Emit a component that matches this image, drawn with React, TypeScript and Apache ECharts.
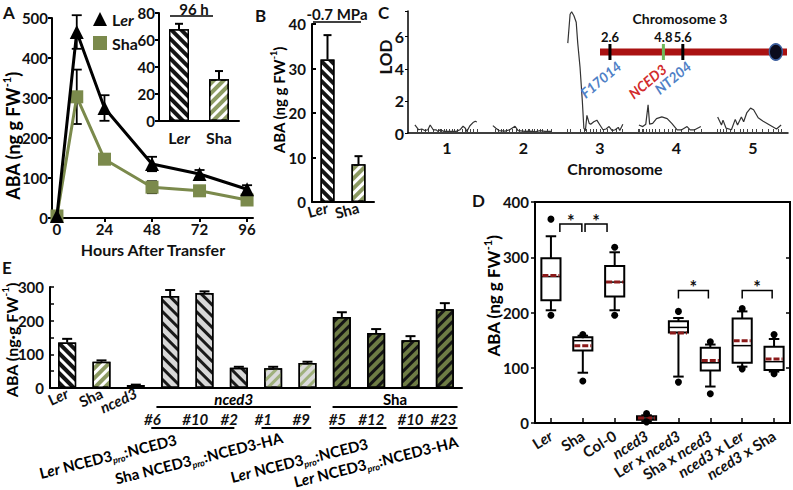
import React, { useEffect, useRef } from 'react';
import * as echarts from 'echarts';

const FF = 'Lato';
const INK = '#111111';
const OLIVE = '#7b8a4c';
const SHA_BAR = '#8c9a62';
const DARK_OLIVE = '#6e7c45';
const MEAN_RED = '#8b1a1a';
const CHR_RED = '#aa1212';
const MARKER_BLUE = '#4f80c6';
const GENE_RED = '#d22b2b';

// ---------------- Panel A ----------------
const aHours = [0, 10, 24, 48, 72, 96];
const aHourTicks = [0, 24, 48, 72, 96];
const aLer = [5, 465, 275, 135, 110, 72];
const aLerErr = [0, 42, 32, 18, 10, 10];
const aSha = [5, 303, 147, 77, 68, 45];
const aShaErr = [0, 68, 12, 15, 6, 8];
const insetCats = ['Ler', 'Sha'];
const insetVals = [68, 31];
const insetErr = [4, 6];

// ---------------- Panel B ----------------
const bCats = ['Ler', 'Sha'];
const bVals = [32, 8.5];
const bErr = [5.5, 1.8];

// ---------------- Panel C ----------------
const cChromosomes = [1, 2, 3, 4, 5];
const cLod1 = [[0.58, 0.5], [0.63, 0.2], [0.67, 0.25], [0.71, 0.15], [0.75, 0.2], [0.78, 0.5], [0.82, 0.2], [0.86, 0.2], [0.88, 0.1], [0.91, 0.2], [0.96, 0.1], [1.04, 0.1], [1.12, 0.1], [1.17, 0.2], [1.21, 0.42], [1.24, 0.3], [1.26, 0.1], [1.3, 0.45], [1.34, 0.65], [1.37, 0.73], [1.39, 0.68]];
const cLod2 = [[1.6, 0.46], [1.64, 0.3], [1.68, 0.15], [1.76, 0.12], [1.82, 0.2], [1.89, 0.42], [1.93, 0.15], [2.02, 0.1], [2.08, 0.12], [2.15, 0.08], [2.22, 0.15], [2.28, 0.1], [2.37, 0.1]];
const cLod3 = [[2.58, 5.6], [2.61, 7.4], [2.63, 7.55], [2.66, 7.3], [2.69, 6.9], [2.71, 5.6], [2.74, 4.1], [2.77, 2.0], [2.79, 0.3], [2.81, 0.15], [2.83, 1.1], [2.86, 0.6], [2.88, 0.55], [2.92, 0.7], [2.96, 0.8], [3.0, 0.5], [3.04, 0.2], [3.08, 0.25], [3.12, 0.4], [3.16, 0.15], [3.2, 0.2], [3.24, 0.35], [3.26, 0.15], [3.3, 0.55]];
const cLod4 = [[3.51, 0.5], [3.56, 0.4], [3.6, 0.55], [3.63, 1.75], [3.65, 0.55], [3.69, 0.6], [3.74, 0.9], [3.81, 1.0], [3.88, 0.9], [3.94, 0.6], [4.01, 0.2], [4.07, 0.2], [4.14, 0.4], [4.18, 0.2], [4.24, 0.2], [4.32, 0.4]];
const cLod5 = [[4.54, 1.0], [4.59, 0.5], [4.61, 0.8], [4.65, 0.3], [4.72, 0.2], [4.77, 0.85], [4.8, 0.5], [4.85, 1.0], [4.88, 0.7], [4.92, 1.25], [4.97, 1.55], [5.01, 1.45], [5.07, 0.95], [5.13, 0.75], [5.22, 0.5], [5.31, 0.25], [5.37, 0.5]];
const cMarkers = [0.61, 0.66, 0.71, 0.76, 0.82, 0.88, 0.91, 0.93, 0.96, 0.99, 1.03, 1.07, 1.1, 1.14, 1.2, 1.24, 1.27, 1.3, 1.34, 1.39,
  1.63, 1.67, 1.71, 1.74, 1.78, 1.82, 1.86, 1.9, 1.94, 1.98, 2.02, 2.06, 2.08, 2.11, 2.14, 2.18, 2.22, 2.25, 2.31, 2.37,
  2.57, 2.61, 2.74, 2.79, 2.82, 2.87, 2.91, 2.95, 3.0, 3.05, 3.09, 3.16, 3.22, 3.29,
  3.5, 3.52, 3.55, 3.57, 3.61, 3.65, 3.68, 3.73, 3.78, 3.84, 3.89, 3.94, 3.99, 4.07, 4.15, 4.23, 4.33,
  4.54, 4.57, 4.61, 4.65, 4.7, 4.76, 4.83, 4.88, 4.93, 4.99, 5.05, 5.12, 5.2, 5.27, 5.33, 5.37];
const chr3Span = [2.19, 9.89];
const chr3MarkerPos = [2.6, 4.8, 5.6];
const chr3MarkerNames = ['F17014', 'NCED3', 'NT204'];
const chr3Centromere = 9.43;

// ---------------- Panel D ----------------
const dCats = ['Ler', 'Sha', 'Col-0', 'nced3', 'Ler x nced3', 'Sha x nced3', 'nced3 x Ler', 'nced3 x Sha'];
// [lower whisker, Q1, median, mean, Q3, upper whisker]
const dBoxes = [
  [204, 222, 265, 267, 298, 338],
  [91, 131, 149, 140, 155, 158],
  [204, 229, 255, 255, 284, 309],
  [3, 6, 9, 9, 12, 14],
  [84, 164, 173, 163, 184, 190],
  [66, 95, 109, 113, 136, 142],
  [102, 109, 140, 149, 189, 202],
  [93, 96, 111, 116, 138, 152],
];
const dOutliers = [[195, 369], [76, 160], [195, 318], [2, 17], [74, 202], [53, 147], [98, 207], [89, 160]];
const dSignif = [[0.28, 0.97, 360], [1.07, 1.76, 360], [4.0, 4.94, 240], [6.0, 6.94, 240]];

// ---------------- Panel E ----------------
const eCats = ['Ler', 'Sha', 'nced3', 'nced3 #6', 'nced3 #10', 'nced3 #2', 'nced3 #1', 'nced3 #9', 'Sha #5', 'Sha #12', 'Sha #10', 'Sha #23'];
const eVals = [135, 78, 9, 273, 282, 60, 59, 74, 211, 163, 142, 234];
const eErr = [11, 4, 1, 18, 5, 3, 4, 4, 14, 12, 12, 18];
const eGenotype = ['Ler', 'Sha', 'nced3', 'nced3+Ler', 'nced3+Ler', 'nced3+Ler', 'nced3+Sha', 'nced3+Sha', 'Sha+Ler', 'Sha+Ler', 'Sha+Ler', 'Sha+Ler'];
const eBackgrounds = ['nced3', 'Sha'];
const eConstructs = [['Ler', 'NCED3'], ['Sha', 'NCED3-HA'], ['Ler', 'NCED3'], ['Ler', 'NCED3-HA']];

// ---------------- annotation layout (category positions) ----------------
const eBackgroundSpan = [[2.6, 7.1], [7.73, 11.37]];
const eLineLabelPos = [2.48, 3.73, 4.72, 5.71, 6.82, 7.87, 8.86, 10.0, 10.96];
const eLineGroupSpan = [[2.45, 4.87], [5.66, 7.11], [7.64, 9.3], [9.65, 11.37]];
const eConstructPos = [3.18, 6.27, 8.75, 11.37];
const eConstructDy = [51, 49, 55, 53];
const chr3NameOffset = [[9, 12], [1, 15], [6, 12]];

const mkRich = (size: number, color = INK) => {
  const base = { fontFamily: FF, fontSize: size, fontWeight: 'bold', color, lineHeight: Math.round(size * 1.35) };
  const small = Math.round(size * 0.62);
  return {
    n: { ...base },
    i: { ...base, fontStyle: 'italic' },
    sup: { fontFamily: FF, fontSize: small, fontWeight: 'bold', color, verticalAlign: 'top' },
    sub: { fontFamily: FF, fontSize: small, fontWeight: 'bold', fontStyle: 'italic', color, verticalAlign: 'bottom' },
  };
};

const geno = (s: string) =>
  String(s)
    .split(/(Ler|nced3)/)
    .filter((t) => t !== '')
    .map((t) => (t === 'Ler' ? '{n|L}{i|er}' : t === 'nced3' ? '{i|nced3}' : `{n|${t}}`))
    .join('');

const stripes = (color: string, dir: string, w = 3, gap = 3.5) => ({
  symbol: 'rect',
  symbolSize: 1,
  color,
  dashArrayX: [1, 0],
  dashArrayY: [w, gap],
  rotation: dir === 'fwd' ? -Math.PI / 4 : Math.PI / 4,
});

const look: Record<string, any> = {
  Ler: { color: '#151515', decal: stripes('#ffffff', 'back') },
  Sha: { color: SHA_BAR, decal: stripes('#ffffff', 'fwd') },
  nced3: { color: '#d3d3d3' },
  'nced3+Ler': { color: '#d8d8d8', decal: stripes('#1a1a1a', 'back', 2.2, 4.3) },
  'nced3+Sha': { color: '#dadada', decal: stripes('#9fb07c', 'fwd', 2.6, 4) },
  'Sha+Ler': { color: DARK_OLIVE, decal: stripes('#151515', 'fwd', 2.6, 4) },
};
const barItem = (v: number, key: string) => ({ value: v, itemStyle: { ...look[key], borderColor: '#000', borderWidth: 1.5 } });

const catPx = (api: any, v: number) => {
  const i = Math.floor(v);
  return api.coord([i, 0])[0] + (v - i) * api.size([1, 0])[0];
};

const errorSeries = (xIdx: number, yIdx: number, data: number[][], cap: number, width = 2) => ({
  type: 'custom',
  xAxisIndex: xIdx,
  yAxisIndex: yIdx,
  data,
  z: 4,
  clip: false,
  encode: { x: 0, y: 1 },
  renderItem: (_p: any, api: any) => {
    const x = api.value(0), v = api.value(1), up = api.value(2), down = api.value(3);
    if (!up && !down) return { type: 'group', children: [] };
    const t = api.coord([x, v + up]);
    const b = api.coord([x, v - down]);
    const st = { stroke: '#000', lineWidth: width };
    const kids: any[] = [
      { type: 'line', shape: { x1: t[0], y1: t[1], x2: b[0], y2: b[1] }, style: st },
      { type: 'line', shape: { x1: t[0] - cap, y1: t[1], x2: t[0] + cap, y2: t[1] }, style: st },
    ];
    if (down > 0) kids.push({ type: 'line', shape: { x1: b[0] - cap, y1: b[1], x2: b[0] + cap, y2: b[1] }, style: st });
    return { type: 'group', children: kids };
  },
});

const axisLine = (w = 2) => ({ show: true, onZero: false, lineStyle: { color: '#000', width: w } });
const tickLabel = (size = 15) => ({ fontFamily: FF, fontWeight: 'bold', fontSize: size, color: INK });
const noSplit = { show: false };

const txt = (text: string, x: number, y: number, size: number, align = 'left', vAlign = 'top', extra: any = {}) => ({
  type: 'text', x, y, ...extra,
  style: { text, font: `bold ${size}px ${FF}`, fill: INK, align, verticalAlign: vAlign, textAlign: align, textVerticalAlign: vAlign },
});
const yTitle = (x: number, y: number, text: string, size: number) => ({
  type: 'text', x, y, rotation: Math.PI / 2,
  style: { text, rich: mkRich(size), align: 'center', verticalAlign: 'middle', textAlign: 'center', textVerticalAlign: 'middle' },
});
const hline = (x1: number, x2: number, y: number) => ({
  type: 'line', shape: { x1, y1: y, x2, y2: y }, style: { stroke: '#000', lineWidth: 1.6 },
});

function buildOption(): any {
  const ABA = '{n|ABA (ng g FW}{sup|-1}{n|)}';
  const ABA_E = '{n|ABA (ng\u00b7g FW}{sup|-1}{n|)}';
  return {
    animation: false,
    backgroundColor: '#ffffff',
    textStyle: { fontFamily: FF },
    legend: {
      left: 88, top: 6, orient: 'vertical', itemGap: 8, itemWidth: 14, itemHeight: 14,
      selectedMode: false,
      data: [{ name: 'Ler', icon: 'triangle' }, { name: 'Sha', icon: 'rect' }],
      formatter: (name: string) => geno(name),
      textStyle: { ...tickLabel(16), rich: mkRich(16) },
    },
    grid: [
      { left: 52, top: 18, width: 201, height: 200 },
      { left: 159, top: 13, width: 80, height: 108 },
      { left: 312, top: 24, width: 62, height: 178 },
      { left: 408, top: 11, width: 380, height: 122 },
      { left: 600, top: 40, width: 187, height: 24 },
      { left: 535, top: 202, width: 255, height: 221, show: true, borderColor: '#000', borderWidth: 2 },
      { left: 50, top: 287, width: 412, height: 101 },
    ],
    xAxis: [
      {
        gridIndex: 0, type: 'value', min: -2.5, max: 99, axisLine: axisLine(),
        axisTick: { show: true, customValues: aHourTicks, length: 4, lineStyle: { color: '#000', width: 2 } },
        axisLabel: { customValues: aHourTicks, ...tickLabel(15), margin: 3 }, splitLine: noSplit,
      },
      {
        gridIndex: 1, type: 'category', data: insetCats, axisLine: axisLine(), axisTick: { show: false },
        axisLabel: { interval: 0, formatter: geno, rich: mkRich(16), margin: 5 },
      },
      {
        gridIndex: 2, type: 'category', data: bCats, axisLine: axisLine(), axisTick: { show: false },
        axisLabel: { interval: 0, formatter: geno, rich: mkRich(15), margin: 5, rotate: 15 },
      },
      {
        gridIndex: 3, type: 'value', min: 0.49, max: 5.46, axisLine: axisLine(1.5),
        axisTick: { show: true, customValues: cMarkers, inside: true, length: 4, lineStyle: { color: '#444', width: 1 } },
        axisLabel: { customValues: cChromosomes, ...tickLabel(16), margin: 6 }, splitLine: noSplit,
      },
      { gridIndex: 4, type: 'value', min: chr3Span[0], max: chr3Span[1], show: false },
      {
        gridIndex: 5, type: 'category', data: dCats, axisLine: axisLine(),
        axisTick: { show: true, inside: true, alignWithLabel: true, length: 5, lineStyle: { color: '#000', width: 1.5 } },
        axisLabel: { interval: 0, rotate: 32, formatter: geno, rich: mkRich(15), margin: 11 },
      },
      {
        gridIndex: 6, type: 'category', data: eCats, axisLine: axisLine(), axisTick: { show: false },
        axisLabel: { interval: 0, rotate: 25, formatter: (v: string, i: number) => (i < 3 ? geno(v) : ''), rich: mkRich(15), margin: 4 },
      },
    ],
    yAxis: [
      { gridIndex: 0, type: 'value', min: 0, max: 500, interval: 100, axisLine: axisLine(), axisTick: { show: true, length: 4, lineStyle: { width: 2, color: '#000' } }, axisLabel: { ...tickLabel(15), margin: 4 }, splitLine: noSplit },
      { gridIndex: 1, type: 'value', min: 0, max: 80, interval: 20, axisLine: axisLine(), axisTick: { show: true, length: 4, lineStyle: { width: 2, color: '#000' } }, axisLabel: { ...tickLabel(15), margin: 4 }, splitLine: noSplit },
      { gridIndex: 2, type: 'value', min: 0, max: 40, interval: 10, axisLine: axisLine(), axisTick: { show: true, inside: true, length: 4, lineStyle: { width: 2, color: '#000' } }, axisLabel: { ...tickLabel(15), margin: 6 }, splitLine: noSplit },
      { gridIndex: 3, type: 'value', min: 0, max: 7.6, interval: 2, axisLine: axisLine(1.5), axisTick: { show: true, length: 3 }, axisLabel: { ...tickLabel(16), margin: 4, formatter: (v: number) => (v % 2 === 0 ? String(v) : '') }, splitLine: noSplit },
      { gridIndex: 4, type: 'value', min: 0, max: 1, show: false },
      { gridIndex: 5, type: 'value', min: 0, max: 400, interval: 100, axisLine: axisLine(), axisTick: { show: true, length: 4, lineStyle: { width: 1.5, color: '#000' } }, axisLabel: { ...tickLabel(15), margin: 6 }, splitLine: noSplit },
      { gridIndex: 5, type: 'value', position: 'right', min: 0, max: 400, interval: 100, axisLine: axisLine(), axisTick: { show: true, inside: true, length: 4, lineStyle: { width: 1.5, color: '#000' } }, axisLabel: { show: false }, splitLine: noSplit },
      { gridIndex: 6, type: 'value', min: 0, max: 300, interval: 50, axisLine: axisLine(), axisTick: { show: true, inside: true, length: 4, lineStyle: { width: 1.5, color: '#000' } }, axisLabel: { ...tickLabel(15), margin: 6, formatter: (v: number) => (v % 100 === 0 ? String(v) : '') }, splitLine: noSplit },
    ],
    series: [
      // ---- A ----
      errorSeries(0, 0, aHours.map((h, i) => [h, aLer[i], aLerErr[i], aLerErr[i]]), 5, 1.8),
      errorSeries(0, 0, aHours.map((h, i) => [h, aSha[i], aShaErr[i], aShaErr[i]]), 5, 1.8),
      {
        name: 'Sha', type: 'line', xAxisIndex: 0, yAxisIndex: 0, z: 5,
        data: aHours.map((h, i) => [h, aSha[i]]),
        symbol: 'rect', symbolSize: 13, color: OLIVE, lineStyle: { color: OLIVE, width: 3 }, itemStyle: { color: OLIVE },
      },
      {
        name: 'Ler', type: 'line', xAxisIndex: 0, yAxisIndex: 0, z: 6,
        data: aHours.map((h, i) => [h, aLer[i]]),
        symbol: 'triangle', symbolSize: 14, color: '#000', lineStyle: { color: '#000', width: 3 }, itemStyle: { color: '#000' },
      },
      {
        type: 'bar', xAxisIndex: 1, yAxisIndex: 1, barWidth: 20,
        data: insetVals.map((v, i) => barItem(v, insetCats[i])),
      },
      errorSeries(1, 1, insetVals.map((v, i) => [i, v, insetErr[i], 0]), 4),
      // ---- B ----
      {
        type: 'bar', xAxisIndex: 2, yAxisIndex: 2, barWidth: 14,
        data: bVals.map((v, i) => barItem(v, bCats[i])),
      },
      errorSeries(2, 2, bVals.map((v, i) => [i, v, bErr[i], 0]), 4),
      // ---- C ----
      ...[cLod1, cLod2, cLod3, cLod4, cLod5].map((d) => ({
        type: 'line', xAxisIndex: 3, yAxisIndex: 3, data: d, symbol: 'none',
        lineStyle: { color: '#333', width: 1.2 }, color: '#333',
      })),
      {
        type: 'line', xAxisIndex: 4, yAxisIndex: 4, data: chr3Span.map((x) => [x, 0.5]), symbol: 'none',
        lineStyle: { color: CHR_RED, width: 7 }, color: CHR_RED, z: 3,
      },
      {
        type: 'custom', xAxisIndex: 4, yAxisIndex: 4, clip: false, z: 5,
        data: chr3MarkerPos.map((p) => [p, 0.5]),
        encode: { x: 0, y: 1 },
        renderItem: (params: any, api: any) => {
          const k = params.dataIndex;
          const pt = api.coord([api.value(0), api.value(1)]);
          const isGene = chr3MarkerNames[k] === 'NCED3';
          const off = chr3NameOffset[k];
          return {
            type: 'group',
            children: [
              { type: 'rect', shape: { x: pt[0] - 1.5, y: pt[1] - 8, width: 3, height: 16 }, style: { fill: isGene ? '#6fb85a' : '#000' } },
              { type: 'text', x: pt[0], y: pt[1] - 9, style: { text: String(chr3MarkerPos[k]), font: `bold 13px ${FF}`, fill: INK, align: 'center', verticalAlign: 'bottom' } },
              {
                type: 'text', x: pt[0] + off[0], y: pt[1] + off[1], rotation: (40 * Math.PI) / 180,
                style: { text: chr3MarkerNames[k], font: `italic bold 14px ${FF}`, fill: isGene ? GENE_RED : MARKER_BLUE, align: 'right', verticalAlign: 'middle' },
              },
            ],
          };
        },
      },
      {
        type: 'scatter', xAxisIndex: 4, yAxisIndex: 4, data: [[chr3Centromere, 0.5]], symbol: 'circle', symbolSize: [13, 16], z: 6,
        itemStyle: { color: '#0b0b1c', borderColor: '#3d5f9e', borderWidth: 1.5, opacity: 1 },
      },
      // ---- D ----
      {
        type: 'custom', xAxisIndex: 5, yAxisIndex: 5, z: 3,
        data: dBoxes.map((b, i) => [i, ...b]),
        encode: { x: 0, y: [1, 2, 3, 4, 5, 6] },
        renderItem: (params: any, api: any) => {
          const i = params.dataIndex;
          const b = dBoxes[i];
          const cx = api.coord([i, 0])[0];
          const py = (v: number) => api.coord([i, v])[1];
          const band = api.size([1, 0])[0];
          const bw = band * 0.6;
          const cw = band * 0.33;
          const ls = { stroke: '#000', lineWidth: 2 };
          return {
            type: 'group',
            children: [
              { type: 'line', shape: { x1: cx, y1: py(b[0]), x2: cx, y2: py(b[1]) }, style: ls },
              { type: 'line', shape: { x1: cx, y1: py(b[4]), x2: cx, y2: py(b[5]) }, style: ls },
              { type: 'line', shape: { x1: cx - cw / 2, y1: py(b[0]), x2: cx + cw / 2, y2: py(b[0]) }, style: ls },
              { type: 'line', shape: { x1: cx - cw / 2, y1: py(b[5]), x2: cx + cw / 2, y2: py(b[5]) }, style: ls },
              { type: 'rect', shape: { x: cx - bw / 2, y: py(b[4]), width: bw, height: py(b[1]) - py(b[4]) }, style: { fill: '#fff', stroke: '#000', lineWidth: 2 } },
              { type: 'line', shape: { x1: cx - bw / 2, y1: py(b[2]), x2: cx + bw / 2, y2: py(b[2]) }, style: { stroke: '#000', lineWidth: 1.5 } },
              { type: 'line', shape: { x1: cx - bw / 2 + 1, y1: py(b[3]), x2: cx + bw / 2 - 1, y2: py(b[3]) }, style: { stroke: MEAN_RED, lineWidth: 3, lineDash: [6, 2] } },
            ],
          };
        },
      },
      {
        type: 'scatter', xAxisIndex: 5, yAxisIndex: 5, z: 5, symbol: 'circle', symbolSize: 7,
        data: dOutliers.flatMap((arr, i) => arr.map((v) => [i, v])),
        itemStyle: { color: '#000', opacity: 1 },
      },
      {
        type: 'custom', xAxisIndex: 5, yAxisIndex: 5, z: 5, clip: false,
        data: dSignif.map((s) => [Math.round(s[0]), s[2]]),
        encode: { x: 0, y: 1 },
        renderItem: (params: any, api: any) => {
          const s = dSignif[params.dataIndex];
          const x1 = catPx(api, s[0]);
          const x2 = catPx(api, s[1]);
          const y = api.coord([0, s[2]])[1];
          return {
            type: 'group',
            children: [
              { type: 'polyline', shape: { points: [[x1, y + 8], [x1, y], [x2, y], [x2, y + 8]] }, style: { stroke: '#000', lineWidth: 1.5, fill: null } },
              { type: 'text', x: (x1 + x2) / 2, y: y - 3, style: { text: '*', font: `bold 18px ${FF}`, fill: INK, align: 'center', verticalAlign: 'middle' } },
            ],
          };
        },
      },
      // ---- E ----
      {
        type: 'bar', xAxisIndex: 6, yAxisIndex: 7, barWidth: 18,
        data: eVals.map((v, i) => barItem(v, eGenotype[i])),
      },
      errorSeries(6, 7, eVals.map((v, i) => [i, v, eErr[i], 0]), 5),
      {
        type: 'custom', xAxisIndex: 6, yAxisIndex: 7, z: 5, clip: false, silent: true,
        data: [[0, 0]],
        encode: { x: 0, y: 1 },
        renderItem: (_p: any, api: any) => {
          const y0 = api.coord([0, 0])[1];
          const kids: any[] = [];
          const rich15 = mkRich(15);
          eBackgrounds.forEach((g, k) => {
            const x1 = catPx(api, eBackgroundSpan[k][0]);
            const x2 = catPx(api, eBackgroundSpan[k][1]);
            kids.push({ type: 'line', shape: { x1, y1: y0 + 19, x2, y2: y0 + 19 }, style: { stroke: '#000', lineWidth: 2 } });
            kids.push({ type: 'text', x: (x1 + x2) / 2, y: y0 + 11, style: { text: geno(g), rich: rich15, align: 'center', verticalAlign: 'middle' } });
          });
          eCats.slice(3).forEach((c, k) => {
            const label = c.split(' ')[1];
            kids.push({ type: 'text', x: catPx(api, eLineLabelPos[k]), y: y0 + 31, style: { text: label, font: `italic bold 15px ${FF}`, fill: INK, align: 'center', verticalAlign: 'middle' } });
          });
          eLineGroupSpan.forEach((s) => {
            kids.push({ type: 'line', shape: { x1: catPx(api, s[0]), y1: y0 + 40, x2: catPx(api, s[1]), y2: y0 + 40 }, style: { stroke: '#000', lineWidth: 2 } });
          });
          eConstructs.forEach((c, k) => {
            const text = `${geno(c[0])}{n| NCED3}{sub|pro}{n|:${c[1]}}`;
            kids.push({
              type: 'text', x: catPx(api, eConstructPos[k]), y: y0 + eConstructDy[k], rotation: (14 * Math.PI) / 180,
              style: { text, rich: rich15, align: 'right', verticalAlign: 'middle' },
            });
          });
          return { type: 'group', children: kids };
        },
      },
    ],
    graphic: [
      txt('A', 3, 4, 17),
      txt('B', 255, 7, 17),
      txt('C', 378, 4, 17),
      txt('D', 472, 192, 17),
      txt('E', 2, 259, 17),
      yTitle(13, 136, ABA, 18),
      yTitle(279, 100, ABA, 15),
      txt('LOD', 385, 57, 17, 'center', 'middle', { rotation: Math.PI / 2 }),
      yTitle(493, 296, ABA, 17),
      yTitle(11, 340, ABA_E, 16),
      txt('96 h', 194, 9, 15, 'center', 'middle'),
      hline(170, 213, 16),
      txt('-0.7 MPa', 337, 14, 15, 'center', 'middle'),
      hline(313, 361, 22),
      txt('Hours After Transfer', 153, 249, 16, 'center', 'middle'),
      txt('Chromosome', 615, 168, 16, 'center', 'middle'),
      txt('Chromosome 3', 680, 18, 14, 'center', 'middle'),
    ],
  };
}

export default function App() {
  const ref = useRef<HTMLDivElement>(null);
  useEffect(() => {
    const chart = echarts.init(ref.current as HTMLDivElement, null, { renderer: 'svg' });
    chart.setOption(buildOption());
    return () => chart.dispose();
  }, []);
  return (
    <div
      ref={ref}
      style={{ position: 'fixed', left: 0, top: 0, width: 793, height: 490, background: '#ffffff' }}
    />
  );
}
